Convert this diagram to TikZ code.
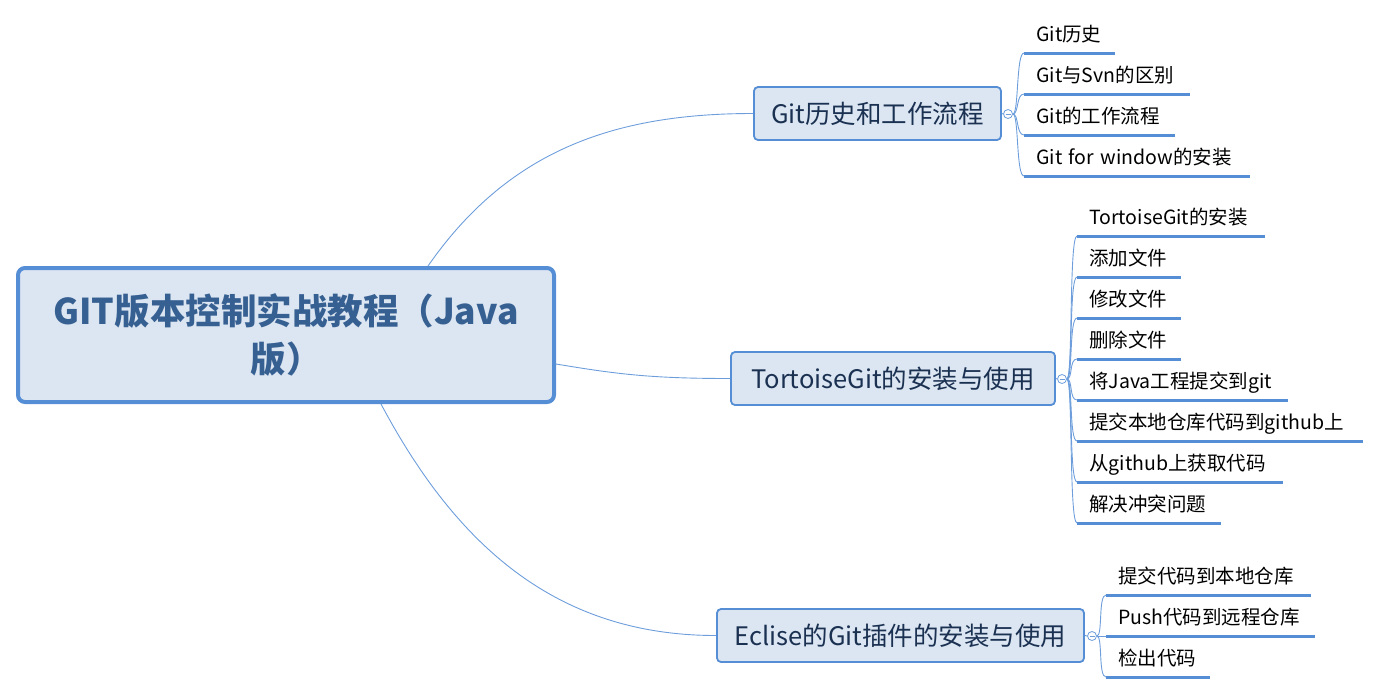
\documentclass[tikz,border=0pt]{standalone}
\usepackage{fontspec}
\setmainfont{Noto Sans CJK SC}
\usetikzlibrary{backgrounds}
\definecolor{bfill}{HTML}{DCE6F2}
\definecolor{bline}{HTML}{558ED5}
\definecolor{roottxt}{HTML}{376092}
\definecolor{brtxt}{HTML}{1B3152}
\definecolor{conncol}{HTML}{6D9EDB}
\begin{document}
\begin{tikzpicture}[x=1pt,y=-1pt,
  rootbox/.style={draw=bline, line width=4pt, fill=bfill, rounded corners=7pt,
    minimum width=536pt, minimum height=134pt, inner sep=0pt, align=center,
    text=roottxt, font=\fontsize{35.5}{48}\selectfont\bfseries},
  branch/.style={draw=bline, line width=1.8pt, fill=bfill, rounded corners=4pt,
    minimum height=53pt, inner sep=0pt, text=brtxt, font=\fontsize{25.5}{28}\selectfont},
  leaf/.style={anchor=south west, inner xsep=12pt, inner ysep=6pt, text height=15pt,
    text depth=5pt, align=left, font=\fontsize{19.5}{21}\selectfont, text=black},
  uline/.style={draw=bline, line width=3pt},
  conn/.style={draw=conncol, line width=0.9pt},
  knob/.style={circle, draw=conncol, fill=white, line width=0.8pt, minimum size=9pt, inner sep=0pt,
    path picture={\draw[conncol, line width=0.8pt] ([xshift=-2.5pt]path picture bounding box.center) -- ([xshift=2.5pt]path picture bounding box.center);}}
]
\useasboundingbox (0,0) rectangle (1381,694);

% root
\node[rootbox] (root) at (286,335) {GIT版本控制实战教程（Java\\版）};

% branches
\node[branch, minimum width=247pt] (b1) at (877.5,113.5) {Git历史和工作流程};
\node[branch, minimum width=324pt] (b2) at (893,378.5) {TortoiseGit的安装与使用};
\node[branch, minimum width=367pt] (b3) at (900.5,635.5) {Eclise的Git插件的安装与使用};

% knobs
\node[knob] (k1) at (1008,114) {};
\node[knob] (k2) at (1062,379) {};
\node[knob] (k3) at (1092,636) {};

% leaves of branch 1
\node[leaf, text width=67pt] (l11) at (1024,53) {Git历史};
\node[leaf, text width=142pt] (l12) at (1024,94) {Git与Svn的区别};
\node[leaf, text width=127pt] (l13) at (1024,135) {Git的工作流程};
\node[leaf, text width=202pt] (l14) at (1024,176) {Git for window的安装};

% leaves of branch 2
\node[leaf, text width=164pt] (l21) at (1077,236) {TortoiseGit的安装};
\node[leaf, text width=80pt] (l22) at (1077,277) {添加文件};
\node[leaf, text width=80pt] (l23) at (1077,318) {修改文件};
\node[leaf, text width=80pt] (l24) at (1077,359) {删除文件};
\node[leaf, text width=187pt] (l25) at (1077,400) {将Java工程提交到git};
\node[leaf, text width=262pt] (l26) at (1077,441) {提交本地仓库代码到github上};
\node[leaf, text width=182pt] (l27) at (1077,482) {从github上获取代码};
\node[leaf, text width=120pt] (l28) at (1077,523) {解决冲突问题};

% leaves of branch 3
\node[leaf, text width=181pt] (l31) at (1106,595) {提交代码到本地仓库};
\node[leaf, text width=185pt] (l32) at (1106,636) {Push代码到远程仓库};
\node[leaf, text width=80pt] (l33) at (1106,677) {检出代码};

\foreach \n in {l11,l12,l13,l14,l21,l22,l23,l24,l25,l26,l27,l28,l31,l32,l33}
  \draw[uline] (\n.south west) -- (\n.south east);

\begin{pgfonlayer}{background}
  \draw[conn] ([xshift=142pt]root.north) .. controls +(80,-115) and +(-140,0) .. (b1.west);
  \draw[conn] ([yshift=-29pt]root.east) .. controls +(60,10) and +(-80,0) .. (b2.west);
  \draw[conn] ([xshift=95pt]root.south) .. controls +(75,141) and +(-160,0) .. (b3.west);
  \draw[conn] (b1.east) -- (k1.west);
  \draw[conn] (b2.east) -- (k2.west);
  \draw[conn] (b3.east) -- (k3.west);
  \foreach \n in {l11,l12,l13,l14}
    \draw[conn] (k1.east) .. controls +(6,0) and +(-8,0) .. (\n.south west);
  \foreach \n in {l21,l22,l23,l24,l25,l26,l27,l28}
    \draw[conn] (k2.east) .. controls +(6,0) and +(-8,0) .. (\n.south west);
  \foreach \n in {l31,l32,l33}
    \draw[conn] (k3.east) .. controls +(6,0) and +(-8,0) .. (\n.south west);
\end{pgfonlayer}
\end{tikzpicture}
\end{document}
